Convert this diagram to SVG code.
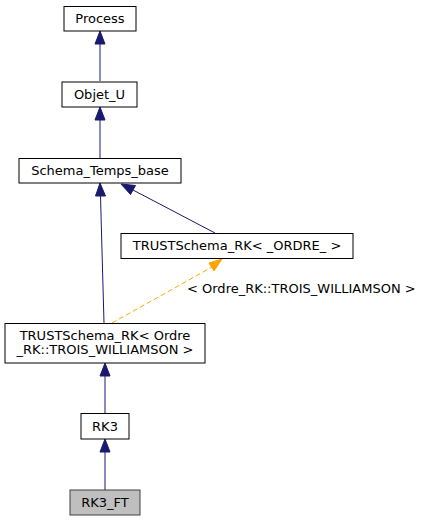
<svg xmlns="http://www.w3.org/2000/svg" width="421" height="521" viewBox="0 0 421 521">
<style>
.node rect{fill:#ffffff;stroke:#000000;stroke-width:1}
.node.cur rect{fill:#bfbfbf;stroke:#404040}
text{font-family:"DejaVu Sans","Liberation Sans",sans-serif;font-size:13px;fill:#000000}
.node text{text-anchor:middle}
.e{fill:none;stroke:#191970;stroke-width:1}
.eh{fill:#191970;stroke:#191970}
.t{fill:none;stroke:#ffa500;stroke-width:1;stroke-dasharray:5,3}
.th{fill:#ffa500;stroke:#ffa500}
</style>
<rect width="421" height="521" fill="#ffffff"/>
<g id="connectors">
<path class="e" d="M100,81 L100,44"/>
<polygon class="eh" points="95,44 100,31 105,44"/>
<path class="e" d="M100,158 L100,120"/>
<polygon class="eh" points="95,120 100,107 105,120"/>
<path class="e" d="M104,323 L100.5,196"/>
<polygon class="eh" points="95.5,196 100,183 105.5,196"/>
<path class="e" d="M215,233 L133,190"/>
<polygon class="eh" points="130.5,194.5 121,184 135.5,185.5"/>
<path class="e" d="M105,413 L105,376"/>
<polygon class="eh" points="100,376 105,363 110,376"/>
<path class="e" d="M105,490 L105,452"/>
<polygon class="eh" points="100,452 105,439 110,452"/>
<path class="t" d="M112,323 L212,267"/>
<polygon class="th" points="209,263 222,259 214,271"/>
<text x="187" y="293">&lt; Ordre_RK::TROIS_WILLIAMSON &gt;</text>
</g>
<g id="Process" class="node"><rect x="64" y="6.5" width="72" height="24.5"/><text x="100" y="22.5">Process</text></g>
<g id="Objet_U" class="node"><rect x="62" y="82" width="75" height="25"/><text x="99.5" y="98.5">Objet_U</text></g>
<g id="Schema_Temps_base" class="node"><rect x="19" y="158.5" width="162" height="24.5"/><text x="100" y="175">Schema_Temps_base</text></g>
<g id="TRUSTSchema_RK_ORDRE" class="node"><rect x="121" y="233.5" width="232" height="25"/><text x="237" y="250">TRUSTSchema_RK&lt; _ORDRE_ &gt;</text></g>
<g id="TRUSTSchema_RK_TROIS" class="node"><rect x="5" y="323.5" width="200" height="39.5"/><text x="105" y="339.5">TRUSTSchema_RK&lt; Ordre</text><text x="105" y="353.5">_RK::TROIS_WILLIAMSON &gt;</text></g>
<g id="RK3" class="node"><rect x="81" y="413.5" width="48" height="25.5"/><text x="105" y="430.5">RK3</text></g>
<g id="RK3_FT" class="node cur"><rect x="70" y="490" width="70" height="25"/><text x="105" y="507">RK3_FT</text></g>
</svg>
